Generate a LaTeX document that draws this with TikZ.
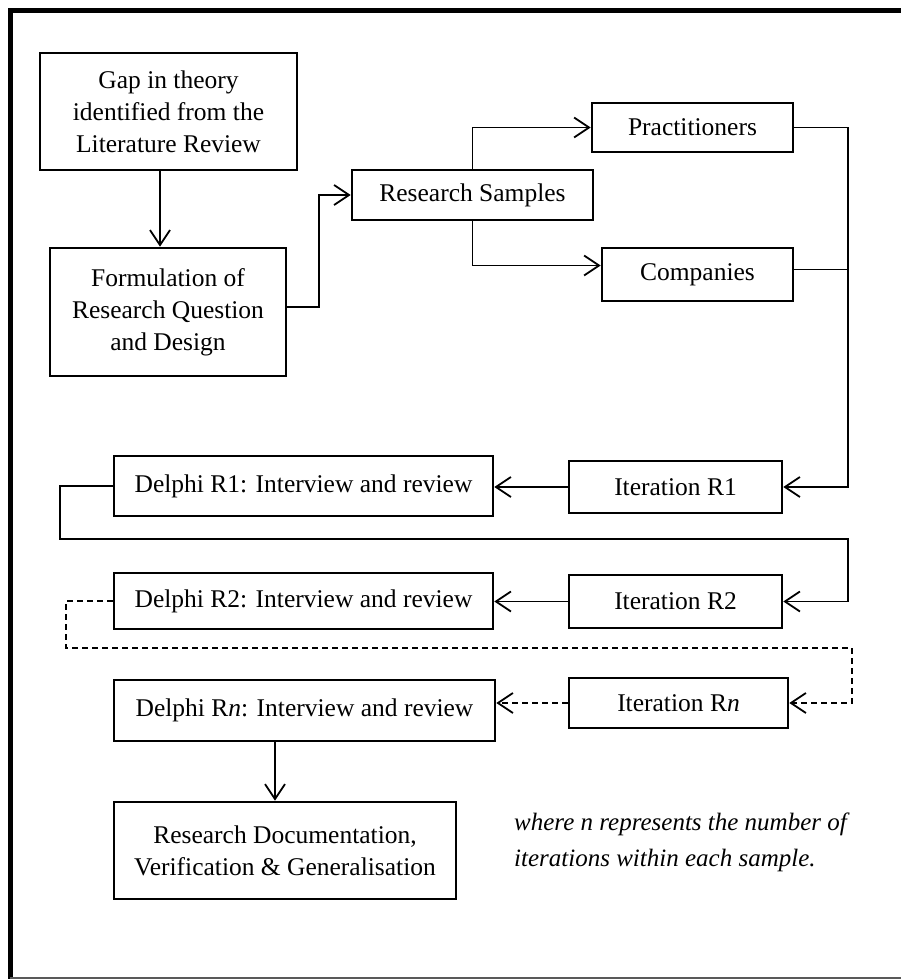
\documentclass[tikz,border=0pt]{standalone}
\usepackage{fontspec}
\setmainfont{Liberation Serif}
\usetikzlibrary{arrows.meta}
\begin{document}
\begin{tikzpicture}[x=1pt,y=-1pt,
  box/.style={draw, line width=2.6pt, align=center, inner sep=0pt,
    font=\fontsize{25.5}{32}\selectfont},
  link/.style={line width=1.8pt, line join=miter},
  arr/.style={link, -{Straight Barb[length=15pt,width=20pt]}},
  dashlink/.style={dash pattern=on 6pt off 4pt}
]
\useasboundingbox (0,0) rectangle (901,979);

% outer frame
\draw[line width=5pt, line join=miter] (10.5,979) -- (10.5,10.5) -- (901,10.5);
\draw[line width=1.5pt, black!65] (10,978) -- (901,978);

% boxes
\node[box, minimum width=257pt, minimum height=117pt] (gap) at (168.5,111.5)
  {Gap in theory\\identified from the\\Literature Review};
\node[box, minimum width=236pt, minimum height=128pt] (form) at (168,312)
  {Formulation of\\Research Question\\and Design};
\node[box, minimum width=241pt, minimum height=50pt] (rs) at (472.5,195) {Research Samples};
\node[box, minimum width=201pt, minimum height=49pt] (prac) at (692.5,127.5) {Practitioners};
\node[box, minimum width=191pt, minimum height=53pt] (comp) at (697.5,274.5) {Companies};
\node[box, minimum width=213pt, minimum height=52pt] (it1) at (675.5,487) {Iteration R1};
\node[box, minimum width=379pt, minimum height=60pt] (de1) at (303.5,486) {Delphi R1: Interview and review};
\node[box, minimum width=213pt, minimum height=53pt] (it2) at (675.5,601.5) {Iteration R2};
\node[box, minimum width=379pt, minimum height=56pt] (de2) at (303.5,601) {Delphi R2: Interview and review};
\node[box, minimum width=219pt, minimum height=50pt] (itn) at (678.5,703) {Iteration R\textit{n}};
\node[box, minimum width=381pt, minimum height=61pt] (den) at (304.5,710.5) {Delphi R\textit{n}: Interview and review};
\node[box, minimum width=342pt, minimum height=97pt] (doc) at (285,850.5)
  {Research Documentation,\\Verification \& Generalisation};

% note
\node[anchor=west, align=left, inner sep=0pt, font=\fontsize{25}{36}\selectfont\itshape]
  (note) at (514,842) {where n represents the number of\\iterations within each sample.};

% routing points
\coordinate (a1) at (160,0);
\coordinate (bus) at (848,0);
\coordinate (l1) at (60,539);
\coordinate (r1) at (848,539);
\coordinate (l2) at (66,648);
\coordinate (r2) at (852,648);
\coordinate (a2) at (275,0);

% connectors
\draw[arr] (gap.south -| a1) -- (form.north -| a1);
\draw[arr] ([yshift=5pt]form.east) -- ++(32,0) |- (rs.west);
\draw[arr] (rs.north) |- (prac.west);
\draw[arr] (rs.south) |- ([yshift=9pt]comp.west);
\draw[arr] (prac.east) -| (it1.east -| bus) -- (it1.east);
\draw[link] ([yshift=5pt]comp.east) -- ([yshift=5pt]comp.east -| bus);
\draw[arr] (it1.west) -- (it1.west -| de1.east);
\draw[arr] (de1.west) -| (l1) -- (r1) |- (it2.east);
\draw[arr] (it2.west) -- (it2.west -| de2.east);
\draw[arr, dashlink] (de2.west) -| (l2) -- (r2) |- (itn.east);
\draw[arr, dashlink] (itn.west) -- (itn.west -| den.east);
\draw[arr] (den.south -| a2) -- (doc.north -| a2);
\end{tikzpicture}
\end{document}
